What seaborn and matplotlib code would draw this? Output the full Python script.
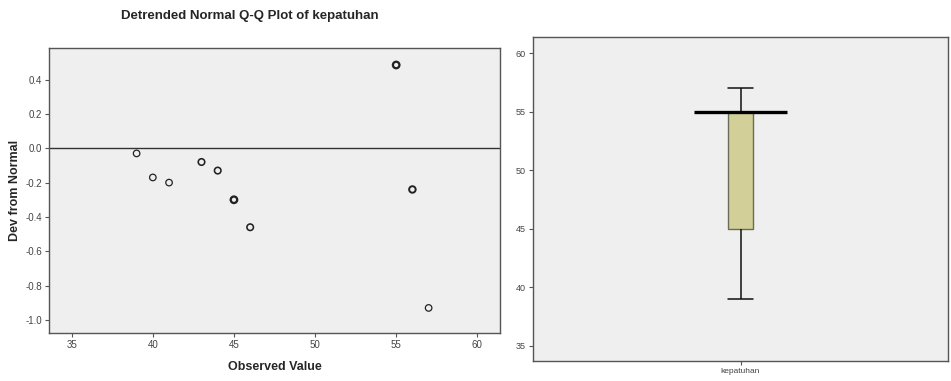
import numpy as np
import pandas as pd
import matplotlib
matplotlib.use("Agg")
import matplotlib.pyplot as plt
import seaborn as sns

# ---- data ----
observed = [39, 40, 41, 43, 44, 45, 46, 55, 56, 57]
dev_from_normal = [-0.03, -0.17, -0.20, -0.08, -0.13, -0.30, -0.46, 0.485, -0.24, -0.93]
freq = [1, 1, 1, 2, 2, 4, 2, 12, 3, 1]
qq_xticks = [35, 40, 45, 50, 55, 60]
qq_yticks = [0.4, 0.2, 0.0, -0.2, -0.4, -0.6, -0.8, -1.0]
box_yticks = [35, 40, 45, 50, 55, 60]
var_name = "kepatuhan"

raw = np.repeat(observed, freq)
qq_df = pd.DataFrame({"Observed Value": observed, "Dev from Normal": dev_from_normal, "freq": freq})
box_df = pd.DataFrame({"var": [var_name] * len(raw), "value": raw})

sns.set_theme(style="white")
plt.rcParams["font.family"] = ["Liberation Sans", "DejaVu Sans"]

fig = plt.figure(figsize=(9.51, 3.81), dpi=100)
W, H = 951, 381
ax1 = fig.add_axes([49 / W, 1 - 333 / H, (500 - 49) / W, (333 - 48) / H])
ax2 = fig.add_axes([533 / W, 1 - 361 / H, (948 - 533) / W, (361 - 37) / H])

bg = "#efefef"
spine_c = "#555555"
for ax in (ax1, ax2):
    ax.set_facecolor(bg)
    for s in ax.spines.values():
        s.set_color(spine_c)
        s.set_linewidth(1.0)
    ax.tick_params(axis="both", which="both", direction="out", length=3, width=0.8,
                   color=spine_c, labelsize=7, labelcolor="#444444", pad=2,
                   left=True, bottom=True)

# ---- left: detrended Q-Q ----
ax1.axhline(0, color="#333333", lw=1.0, zorder=1)
for lw_val, sub in qq_df.groupby("freq"):
    sns.scatterplot(data=sub, x="Observed Value", y="Dev from Normal", ax=ax1,
                    marker="o", s=22, facecolor="none", edgecolor="#222222",
                    linewidth=0.9 + 0.25 * min(lw_val - 1, 3), zorder=3, legend=False)
ax1.set_xlim(33.6, 61.4)
ax1.set_ylim(-1.076, 0.584)
ax1.set_xticks(qq_xticks)
ax1.set_yticks(qq_yticks)
ax1.set_yticklabels([f"{v:.1f}" for v in qq_yticks])
ax1.set_xlabel("Observed Value", fontsize=9, fontweight="bold", labelpad=8)
ax1.set_ylabel("Dev from Normal", fontsize=9, fontweight="bold", labelpad=3)
fig.text(250 / W, 1 - 16 / H, f"Detrended Normal Q-Q Plot of {var_name}",
         ha="center", va="center", fontsize=9.5, fontweight="bold")

# ---- right: boxplot ----
sns.boxplot(data=box_df, x="var", y="value", ax=ax2, width=0.058, whis=(0, 100),
            color="#d3cf98", linecolor="#111111", linewidth=1.1, saturation=1,
            medianprops=dict(alpha=0),
            boxprops=dict(edgecolor="#6b6b5a", linewidth=1.0),
            whiskerprops=dict(color="#111111", linewidth=1.1),
            capprops=dict(color="#111111", linewidth=1.1))
for ln in ax2.lines:
    xd = np.asarray(ln.get_xdata(), dtype=float)
    if len(xd) == 2 and xd[0] != xd[1]:
        ln.set_xdata([-0.029, 0.029])
med = np.median(raw)
ax2.hlines(med, -0.112, 0.112, color="#000000", lw=2.4, zorder=5)
ax2.set_xlim(-0.5, 0.5)
ax2.set_ylim(33.7, 61.4)
ax2.set_yticks(box_yticks)
ax2.set_xlabel("")
ax2.set_ylabel("")
ax2.tick_params(axis="x", labelsize=6)
ax2.tick_params(axis="y", labelsize=6.5)

fig.savefig("out.png", dpi=100)
